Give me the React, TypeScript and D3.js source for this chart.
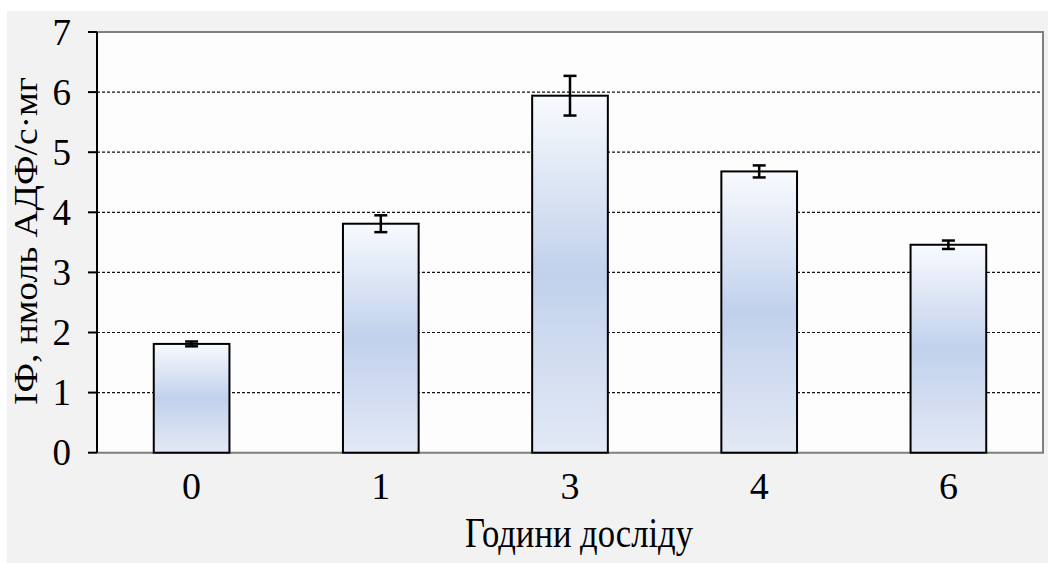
import React from "react";
import * as d3 from "d3";

const categories = ["0", "1", "3", "4", "6"];
const values = [1.81, 3.81, 5.94, 4.68, 3.46];
const errors = [0.04, 0.14, 0.33, 0.1, 0.07];
const yTicks = [0, 1, 2, 3, 4, 5, 6, 7];
const xTitle = "Години досліду";
const yTitle = "ІФ, нмоль АДФ/с·мг";

const W = 1048;
const H = 563;
const plot = { left: 97, right: 1043, top: 32, bottom: 452.7 };
const textStyle: React.CSSProperties = {
  fontFamily: "\"Liberation Serif\", \"DejaVu Serif\", serif",
};

export default function App() {
  const x = d3
    .scaleBand<string>()
    .domain(categories)
    .range([plot.left, plot.right])
    .paddingInner(0.6)
    .paddingOuter(0.3);
  const y = d3.scaleLinear().domain([0, 7]).range([plot.bottom, plot.top]);
  const capW = 13;

  return (
    <svg
      width={W}
      height={H}
      style={{ position: "absolute", left: 0, top: 0, display: "block" }}
    >
      <defs>
        <linearGradient id="barGrad" x1="0" y1="0" x2="0" y2="1">
          <stop offset="0%" stopColor="#f8fafe" />
          <stop offset="50%" stopColor="#c1d1ec" />
          <stop offset="100%" stopColor="#e3e9f5" />
        </linearGradient>
      </defs>
      <rect x={0} y={0} width={W} height={H} fill="#ffffff" />
      <rect x={7} y={11} width={W - 7} height={H - 11} fill="#f2f2f2" />
      <rect
        x={plot.left}
        y={plot.top}
        width={plot.right - plot.left}
        height={plot.bottom - plot.top}
        fill="#fdfdfd"
      />
      {yTicks
        .filter((t) => t > 0 && t < 7)
        .map((t) => (
          <line
            key={"g" + t}
            x1={plot.left}
            x2={plot.right}
            y1={y(t)}
            y2={y(t)}
            stroke="#111"
            strokeWidth={1.2}
            strokeDasharray="3,2"
          />
        ))}
      <path
        d={`M${plot.left},${plot.top}H${plot.right}V${plot.bottom}H${plot.left}`}
        fill="none"
        stroke="#808080"
        strokeWidth={2}
      />
      {categories.map((c, i) => (
        <rect
          key={"b" + c}
          x={x(c)!}
          y={y(values[i])}
          width={x.bandwidth()}
          height={y(0) - y(values[i])}
          fill="url(#barGrad)"
          stroke="#000"
          strokeWidth={2}
        />
      ))}
      {categories.map((c, i) => {
        const cx = x(c)! + x.bandwidth() / 2;
        const yt = y(values[i] + errors[i]);
        const yb = y(values[i] - errors[i]);
        return (
          <g key={"e" + c} stroke="#000" strokeWidth={2.5}>
            <line x1={cx} x2={cx} y1={yt} y2={yb} />
            <line x1={cx - capW / 2} x2={cx + capW / 2} y1={yt} y2={yt} />
            <line x1={cx - capW / 2} x2={cx + capW / 2} y1={yb} y2={yb} />
          </g>
        );
      })}
      <line
        x1={plot.left}
        x2={plot.left}
        y1={plot.top}
        y2={plot.bottom}
        stroke="#000"
        strokeWidth={2}
      />
      {yTicks.map((t) => (
        <g key={"t" + t}>
          <line
            x1={88}
            x2={plot.left}
            y1={y(t)}
            y2={y(t)}
            stroke="#000"
            strokeWidth={2}
          />
          <text
            x={71}
            y={y(t) + 12.5}
            textAnchor="end"
            style={textStyle}
            fontSize={37}
            fill="#000"
          >
            {t}
          </text>
        </g>
      ))}
      {categories.map((c) => (
        <text
          key={"x" + c}
          x={x(c)! + x.bandwidth() / 2}
          y={499}
          textAnchor="middle"
          style={textStyle}
          fontSize={38}
          fill="#000"
        >
          {c}
        </text>
      ))}
      <text
        x={465}
        y={547}
        style={textStyle}
        fontSize={42}
        textLength={228}
        lengthAdjust="spacingAndGlyphs"
        fill="#000"
      >
        {xTitle}
      </text>
      <text
        transform={`translate(37,405) rotate(-90)`}
        x={0}
        y={0}
        style={textStyle}
        fontSize={33}
        textLength={328}
        lengthAdjust="spacingAndGlyphs"
        fill="#000"
      >
        {yTitle}
      </text>
    </svg>
  );
}
